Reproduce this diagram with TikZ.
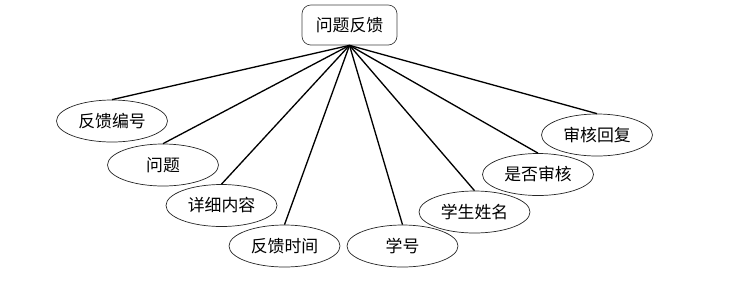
\documentclass[tikz,border=0pt]{standalone}
\usepackage{fontspec}
\newfontfamily\cjk{Noto Sans CJK SC}
\usepackage{tikz}
\usetikzlibrary{shapes.geometric}

\begin{document}
\begin{tikzpicture}[
  rootbox/.style={draw=black!75,rounded corners=5pt,fill=white,minimum width=1.9cm,minimum height=0.8cm,font=\cjk\fontsize{9.6}{11}\selectfont},
  attr/.style={draw=black!85,ellipse,minimum width=2.22cm,minimum height=0.84cm,inner sep=0pt,font=\cjk\fontsize{9.6}{11}\selectfont},
  link/.style={line width=0.75pt}]
\useasboundingbox (0,0) rectangle (14.72,-5.68);
\node[rootbox] (fk) at (6.99,-0.5) {问题反馈};
\node[attr] (a1) at (2.24,-2.42) {反馈编号};
\node[attr] (a2) at (3.26,-3.30) {问题};
\node[attr] (a3) at (4.43,-4.11) {详细内容};
\node[attr] (a4) at (5.69,-4.92) {反馈时间};
\node[attr] (a5) at (8.05,-4.92) {学号};
\node[attr] (a6) at (9.49,-4.24) {学生姓名};
\node[attr] (a7) at (10.76,-3.49) {是否审核};
\node[attr] (a8) at (11.94,-2.70) {审核回复};
\foreach \i in {1,...,8}
  \draw[link] (fk.south)--(a\i.north);
\end{tikzpicture}
\end{document}
